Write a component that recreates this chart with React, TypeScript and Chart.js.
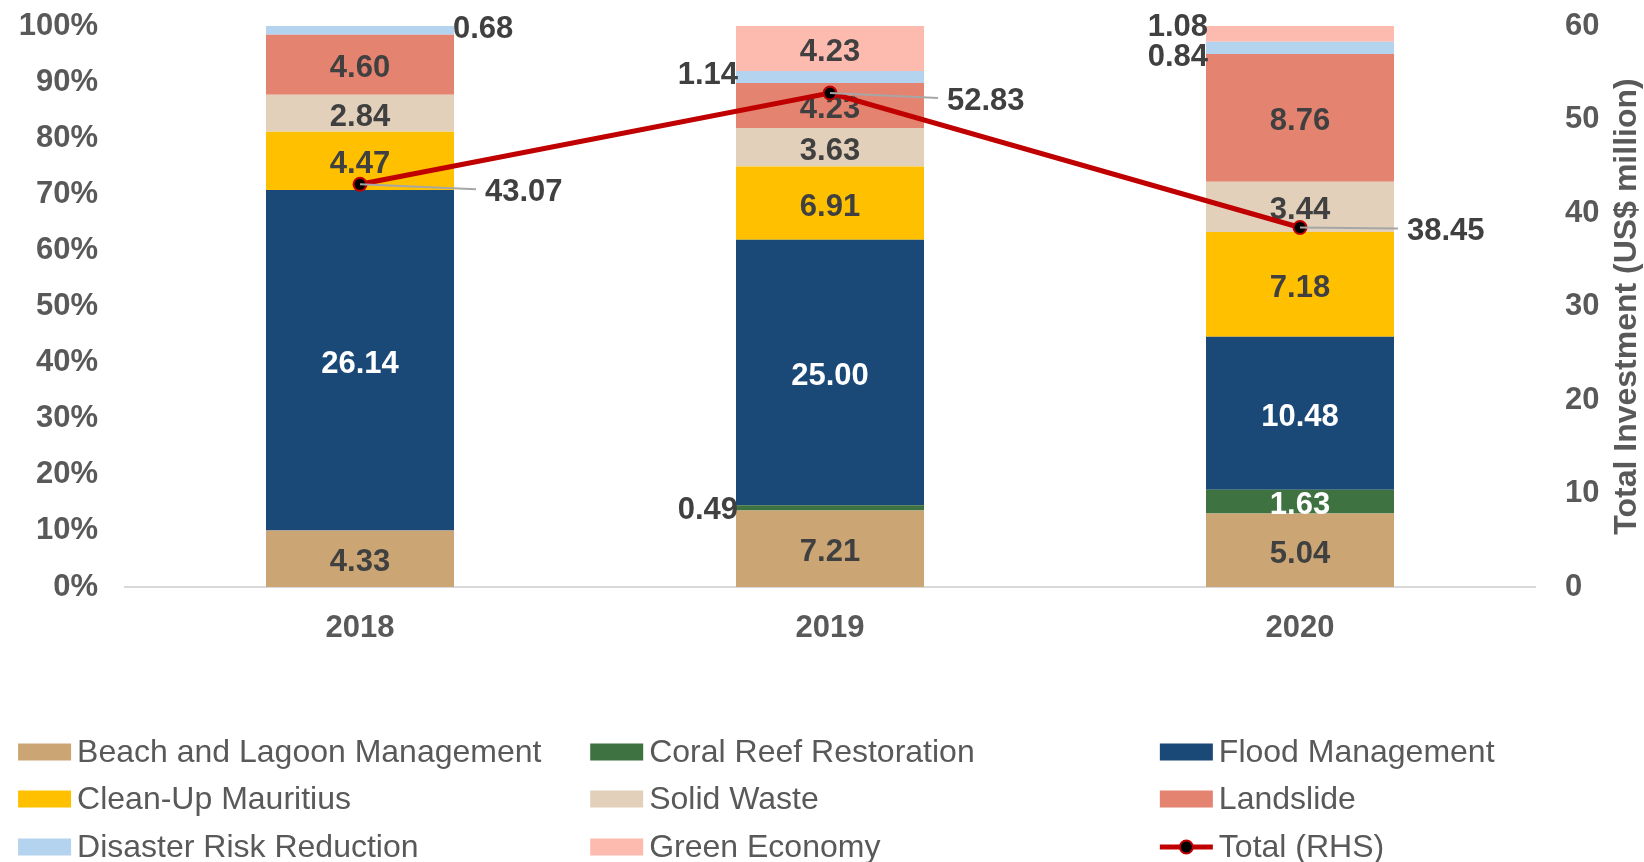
import React, { useEffect, useRef } from 'react';
import { Chart, registerables } from 'chart.js';

Chart.register(...registerables);

// ---------- data ----------
const years = ['2018', '2019', '2020'];
const beachLagoon = [4.33, 7.21, 5.04];
const coralReef = [0, 0.49, 1.63];
const floodMgmt = [26.14, 25.0, 10.48];
const cleanUp = [4.47, 6.91, 7.18];
const solidWaste = [2.84, 3.63, 3.44];
const landslide = [4.6, 4.23, 8.76];
const disasterRisk = [0.68, 1.14, 0.84];
const greenEconomy = [0, 4.23, 1.08];
const totals = [43.07, 52.83, 38.45];

const seriesNames = [
  'Beach and Lagoon Management',
  'Coral Reef Restoration',
  'Flood Management',
  'Clean-Up Mauritius',
  'Solid Waste',
  'Landslide',
  'Disaster Risk Reduction',
  'Green Economy',
];
const seriesValues = [beachLagoon, coralReef, floodMgmt, cleanUp, solidWaste, landslide, disasterRisk, greenEconomy];
const totalName = 'Total (RHS)';
const rhsTitle = 'Total Investment (US$ million)';

// ---------- styles ----------
const seriesColors = ['#CBA674', '#3F7241', '#1A4978', '#FFC000', '#E2D0BB', '#E48370', '#B4D3EE', '#FDBBB0'];
const whiteLabelSeries = [1, 2];
const lineColor = '#C00000';
const FONT = "'Liberation Sans', Arial, sans-serif";
const axisGray = '#595959';
const labelGray = '#404040';

// placement of labels for thin segments (series-index, category-index)
const outsideLabels: Record<string, { side: 'left' | 'right'; dy: number }> = {
  '6-0': { side: 'right', dy: -4 },
  '6-1': { side: 'left', dy: -5 },
  '1-1': { side: 'left', dy: 0 },
  '6-2': { side: 'left', dy: 7 },
  '7-2': { side: 'left', dy: -9 },
};
const totalLeaderDx = [116, 108, 98];
const totalLeaderDy = [5, 5, 1];

const fmt = (v: number) => v.toFixed(2);

const barLabelsPlugin = {
  id: 'barLabels',
  beforeDatasetDraw(chart: any, args: any) {
    const ds = chart.data.datasets[args.index];
    if (ds.type !== 'line') return;
    const ctx = chart.ctx;
    ctx.save();
    ctx.font = `bold 31px ${FONT}`;
    ctx.textBaseline = 'middle';
    seriesValues.forEach((vals, si) => {
      const meta = chart.getDatasetMeta(si);
      meta.data.forEach((el: any, ci: number) => {
        const v = vals[ci];
        if (!v) return;
        const p = el.getProps(['x', 'y', 'base', 'width'], true);
        const cy = (p.y + p.base) / 2;
        const key = `${si}-${ci}`;
        const out = outsideLabels[key];
        if (out) {
          ctx.fillStyle = labelGray;
          if (out.side === 'left') {
            ctx.textAlign = 'right';
            ctx.fillText(fmt(v), p.x - p.width / 2 + 2, cy + out.dy + 3);
          } else {
            ctx.textAlign = 'left';
            ctx.fillText(fmt(v), p.x + p.width / 2 - 1, cy + out.dy + 3);
          }
        } else {
          ctx.fillStyle = whiteLabelSeries.includes(si) ? '#FFFFFF' : labelGray;
          ctx.textAlign = 'center';
          ctx.fillText(fmt(v), p.x, cy + 4);
        }
      });
    });
    ctx.restore();
  },
  afterDatasetsDraw(chart: any) {
    const ctx = chart.ctx;
    const lineIdx = chart.data.datasets.findIndex((d: any) => d.type === 'line');
    const meta = chart.getDatasetMeta(lineIdx);
    ctx.save();
    meta.data.forEach((pt: any, i: number) => {
      const ex = pt.x + totalLeaderDx[i];
      const ey = pt.y + totalLeaderDy[i];
      ctx.strokeStyle = '#A6A6A6';
      ctx.lineWidth = 2;
      ctx.beginPath();
      ctx.moveTo(pt.x, pt.y);
      ctx.lineTo(ex, ey);
      ctx.stroke();
      ctx.font = `bold 31px ${FONT}`;
      ctx.fillStyle = labelGray;
      ctx.textAlign = 'left';
      ctx.textBaseline = 'middle';
      ctx.fillText(fmt(totals[i]), ex + 9, ey + 3);
    });
    ctx.restore();
  },
};

const legendPlugin = {
  id: 'gridLegend',
  afterDraw(chart: any) {
    const ctx = chart.ctx;
    const W = chart.width;
    const colX = [W * 0.011, W * 0.359, W * 0.7055];
    const rowY = [752, 799, 847];
    const boxW = 53;
    const boxH = 17;
    const items = seriesNames.map((n, i) => ({ name: n, color: seriesColors[i], line: false }));
    items.push({ name: totalName, color: lineColor, line: true });
    ctx.save();
    ctx.font = `32px ${FONT}`;
    ctx.textBaseline = 'middle';
    ctx.textAlign = 'left';
    items.forEach((it, i) => {
      const x = colX[i % 3];
      const y = rowY[Math.floor(i / 3)];
      if (it.line) {
        ctx.strokeStyle = lineColor;
        ctx.lineWidth = 5;
        ctx.beginPath();
        ctx.moveTo(x, y);
        ctx.lineTo(x + boxW, y);
        ctx.stroke();
        ctx.beginPath();
        ctx.arc(x + boxW / 2, y, 6.5, 0, Math.PI * 2);
        ctx.fillStyle = '#000';
        ctx.fill();
        ctx.lineWidth = 2;
        ctx.stroke();
      } else {
        ctx.fillStyle = it.color;
        ctx.fillRect(x, y - boxH / 2, boxW, boxH);
      }
      ctx.fillStyle = axisGray;
      ctx.fillText(it.name, x + boxW + 6, y + 1);
    });
    ctx.restore();
  },
};

const rhsTitlePlugin = {
  id: 'rhsTitle',
  afterDraw(chart: any) {
    const ctx = chart.ctx;
    const a = chart.chartArea;
    ctx.save();
    ctx.translate(chart.width - 17, (a.top + a.bottom) / 2);
    ctx.rotate(-Math.PI / 2);
    ctx.font = `bold 32px ${FONT}`;
    ctx.fillStyle = axisGray;
    ctx.textAlign = 'center';
    ctx.textBaseline = 'middle';
    ctx.fillText(rhsTitle, 0, 0);
    ctx.restore();
  },
};

export default function App() {
  const ref = useRef<HTMLCanvasElement | null>(null);

  useEffect(() => {
    document.body.style.margin = '0';
    document.body.style.overflow = 'hidden';
    const sums = years.map((_, ci) => seriesValues.reduce((s, arr) => s + arr[ci], 0));
    const barDatasets = seriesValues.map((vals, si) => ({
      type: 'bar' as const,
      label: seriesNames[si],
      data: vals.map((v, ci) => (v / sums[ci]) * 100),
      backgroundColor: seriesColors[si],
      borderWidth: 0,
      yAxisID: 'y',
      stack: 'mix',
      order: 1,
      barPercentage: 0.8,
      categoryPercentage: 0.5,
    }));
    const lineDataset = {
      type: 'line' as const,
      label: totalName,
      data: totals,
      yAxisID: 'y1',
      borderColor: lineColor,
      borderWidth: 5,
      pointRadius: 6.5,
      pointBackgroundColor: '#000000',
      pointBorderColor: lineColor,
      pointBorderWidth: 2,
      tension: 0,
      order: 0,
    };
    const tickFont = { family: FONT, size: 31, weight: 'bold' as const };
    const fitSide = (w: number) => (s: any) => {
      s.width = w;
      s.paddingTop = 0;
      s.paddingBottom = 0;
    };
    const chart = new Chart(ref.current as HTMLCanvasElement, {
      type: 'bar',
      data: { labels: years, datasets: [...barDatasets, lineDataset] as any },
      options: {
        responsive: false,
        animation: false,
        layout: { padding: { top: 26, left: 0, right: 0, bottom: 0 } },
        plugins: { legend: { display: false }, tooltip: { enabled: false } },
        scales: {
          x: {
            stacked: true,
            grid: { display: false, drawTicks: false },
            border: { display: true, color: '#D9D9D9', width: 2 },
            ticks: { font: tickFont, color: axisGray, padding: 23 },
            afterFit: (s: any) => {
              s.height = 275;
              s.paddingLeft = 0;
              s.paddingRight = 0;
            },
          },
          y: {
            stacked: true,
            position: 'left',
            min: 0,
            max: 100,
            grid: { display: false, drawTicks: false },
            border: { display: false },
            ticks: { stepSize: 10, font: tickFont, color: axisGray, padding: 27, callback: (v: any) => `${v}%` },
            afterFit: fitSide(125),
          },
          y1: {
            stacked: false,
            position: 'right',
            min: 0,
            max: 60,
            grid: { display: false, drawTicks: false },
            border: { display: false },
            ticks: { stepSize: 10, font: tickFont, color: axisGray, padding: 30 },
            afterFit: fitSide(109),
          },
        },
      } as any,
      plugins: [barLabelsPlugin, legendPlugin, rhsTitlePlugin],
    });
    return () => chart.destroy();
  }, []);

  return (
    <div style={{ width: 1644, height: 862, position: 'relative', background: '#fff' }}>
      <canvas ref={ref} width={1644} height={862} style={{ display: 'block' }} />
    </div>
  );
}
